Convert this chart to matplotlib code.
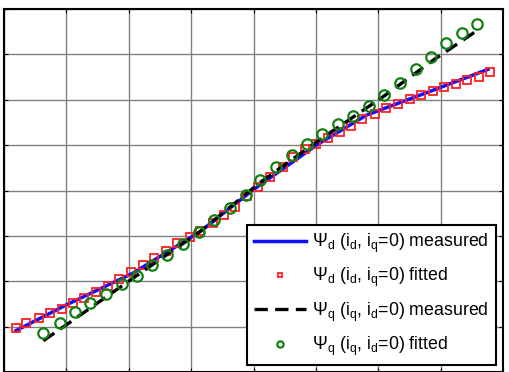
import numpy as np
import matplotlib
matplotlib.use('Agg')
import matplotlib.pyplot as plt

plt.rcParams['font.family'] = ['Liberation Sans', 'DejaVu Sans']
plt.rcParams['mathtext.fontset'] = 'custom'
plt.rcParams['mathtext.rm'] = 'Liberation Sans'
plt.rcParams['mathtext.it'] = 'Liberation Sans'

# Psi_d (i_d, i_q=0): measured curve and fitted points
psi_d_meas_x = [0.19, 1.00, 2.07, 3.14, 3.99, 5.01, 5.81, 6.88, 7.76]
psi_d_meas_y = [0.91, 1.48, 2.18, 3.09, 4.01, 5.00, 5.66, 6.21, 6.67]
psi_d_fit_x = [0.19, 0.36, 0.56, 0.74, 0.93, 1.10, 1.29, 1.47, 1.67, 1.84,
               2.03, 2.23, 2.41, 2.60, 2.78, 2.98, 3.14, 3.35, 3.53, 3.71,
               3.90, 4.08, 4.26, 4.47, 4.64, 4.82, 5.01, 5.20, 5.39, 5.57,
               5.74, 5.95, 6.13, 6.31, 6.51, 6.68, 6.87, 7.05, 7.24, 7.42,
               7.61, 7.79]
psi_d_fit_y = [0.98, 1.09, 1.18, 1.29, 1.39, 1.51, 1.64, 1.76, 1.90, 2.06,
               2.20, 2.36, 2.52, 2.67, 2.84, 2.97, 3.11, 3.28, 3.46, 3.64,
               3.88, 4.08, 4.30, 4.51, 4.74, 4.91, 5.02, 5.16, 5.28, 5.42,
               5.57, 5.68, 5.81, 5.91, 6.01, 6.10, 6.19, 6.27, 6.34, 6.43,
               6.51, 6.62]

# Psi_q (i_q, i_d=0): measured curve and fitted points
psi_q_meas_x = [0.63, 1.00, 2.07, 3.14, 4.10, 5.01, 6.07, 6.88, 7.61]
psi_q_meas_y = [0.69, 1.04, 2.07, 3.09, 4.17, 5.07, 6.06, 6.87, 7.55]
psi_q_fit_x = [0.63, 0.90, 1.14, 1.38, 1.64, 1.89, 2.13, 2.38, 2.62, 2.87,
               3.12, 3.37, 3.62, 3.88, 4.10, 4.36, 4.62, 4.86, 5.10, 5.35,
               5.60, 5.85, 6.10, 6.35, 6.60, 6.85, 7.08, 7.34, 7.59]
psi_q_fit_y = [0.85, 1.09, 1.33, 1.53, 1.71, 1.93, 2.12, 2.36, 2.58, 2.81,
               3.09, 3.35, 3.62, 3.91, 4.23, 4.51, 4.78, 5.02, 5.24, 5.46,
               5.64, 5.86, 6.10, 6.36, 6.67, 6.95, 7.24, 7.47, 7.68]

labels = [r'$\Psi_d$ ($i_d$, $i_q$=0) measured',
          r'$\Psi_d$ ($i_d$, $i_q$=0) fitted',
          r'$\Psi_q$ ($i_q$, $i_d$=0) measured',
          r'$\Psi_q$ ($i_q$, $i_d$=0) fitted']

fig = plt.figure(figsize=(5.09, 3.72), dpi=100)
ax = fig.add_axes([4 / 509, 0.0, 499 / 509, 363 / 372])

ax.plot(psi_d_meas_x, psi_d_meas_y, color='#1010ff', lw=2.5, label=labels[0])
ax.plot(psi_d_fit_x, psi_d_fit_y, 's', ms=5.2, mew=1.3, mfc='none',
        color='#ff2020', label=labels[1])
ax.plot(psi_q_meas_x, psi_q_meas_y, '--', color='black', lw=2.4,
        dashes=(4, 2.2), label=labels[2])
ax.plot(psi_q_fit_x, psi_q_fit_y, 'o', ms=7.5, mew=1.6, mfc='none',
        color='#108010', label=labels[3])

ax.set_xlim(0, 8)
ax.set_ylim(0, 8)
ax.set_xticks(np.arange(0, 9))
ax.set_yticks(np.arange(0, 9))
ax.set_xticklabels([])
ax.set_yticklabels([])
ax.tick_params(direction='in', length=3, top=True, right=True)
ax.grid(True, color='#808080', lw=1.0)
ax.set_axisbelow(True)
for s in ax.spines.values():
    s.set_linewidth(1.5)

leg = ax.legend(loc='lower right', fontsize=12.8, handlelength=2.9,
                fancybox=False, framealpha=1, edgecolor='black',
                borderaxespad=0.4, labelspacing=0.62, handletextpad=0.35,
                borderpad=0.4, markerscale=0.6)
leg.get_frame().set_linewidth(1.5)

fig.savefig('out.png', dpi=100)
